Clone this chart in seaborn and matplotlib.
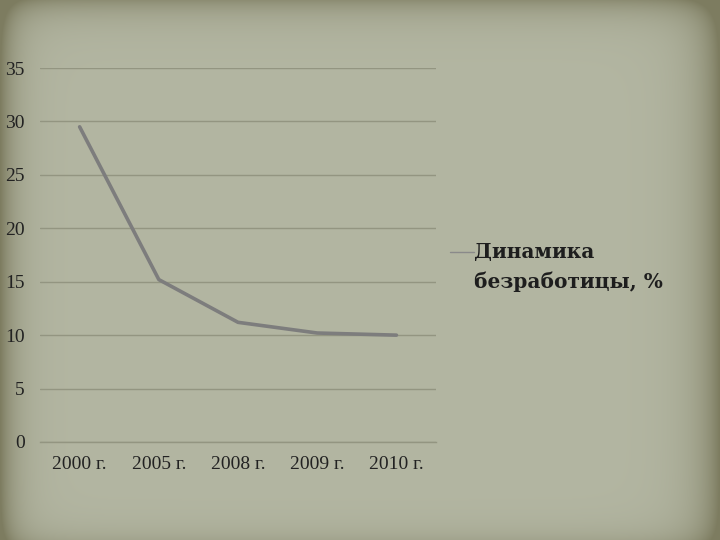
import numpy as np
import pandas as pd
import seaborn as sns
import matplotlib.pyplot as plt

years = ["2000 г.", "2005 г.", "2008 г.", "2009 г.", "2010 г."]
unemployment = [29.5, 15.2, 11.2, 10.2, 10.0]
series_name = "Динамика\nбезработицы, %"

df = pd.DataFrame({"year": years, "value": unemployment})

sns.set_style("white")
plt.rcParams["font.family"] = ["Liberation Serif", "DejaVu Serif"]

fig = plt.figure(figsize=(7.2, 5.4), dpi=100)

# textured-looking background with darker edges
bg = fig.add_axes([0, 0, 1, 1], zorder=-10)
h, w = 540, 720
yy, xx = np.mgrid[0:h, 0:w]
edge = (np.exp(-xx / 16.0) + np.exp(-(w - 1 - xx) / 22.0)
        + 0.7 * np.exp(-yy / 16.0) + 0.3 * np.exp(-(h - 1 - yy) / 14.0))
edge = np.clip(edge, 0, 1)
center = np.array([179, 182, 162]) / 255
dark = np.array([125, 124, 96]) / 255
img = center[None, None, :] * (1 - edge[..., None]) + dark[None, None, :] * edge[..., None]
bg.imshow(img, aspect="auto", extent=[0, 1, 0, 1])
bg.axis("off")

ax = fig.add_axes([0.0556, 0.1815, 0.55, 0.6925])
ax.patch.set_alpha(0)
sns.lineplot(data=df, x="year", y="value", ax=ax, color="#7d7d7d",
             linewidth=2.6, label=series_name, sort=False)

ax.set_ylim(0, 35)
ax.set_yticks(range(0, 36, 5))
ax.set_xlim(-0.5, 4.5)
ax.set_xlabel("")
ax.set_ylabel("")

ax.yaxis.grid(True, color="#939581", linewidth=1.0)
ax.xaxis.grid(False)
for s in ["top", "right", "left"]:
    ax.spines[s].set_visible(False)
ax.spines["bottom"].set_color("#939581")
ax.spines["bottom"].set_linewidth(1.0)

ax.tick_params(axis="y", length=0, pad=11, labelsize=14, labelcolor="#222222")
ax.tick_params(axis="x", which="major", length=0, pad=10, labelsize=14, labelcolor="#222222")
ax.set_xticks(np.arange(-0.5, 5.0, 1.0), minor=True)
ax.tick_params(axis="x", which="minor", length=5, color="#939581", direction="out")

fs = 14.5
ls = 1.6
leg = ax.legend(loc="upper left", bbox_to_anchor=(0.625, 0.552),
                bbox_transform=fig.transFigure, frameon=False,
                borderpad=0, borderaxespad=0,
                handlelength=1.2, handletextpad=0.0, labelspacing=0,
                prop={"family": "DejaVu Serif", "size": fs, "weight": "bold"})
for t in leg.get_texts():
    t.set_color("#1e1e1e")
    t.set_linespacing(ls)
# put the legend line next to the first text line, thin like the original
hl = leg.get_lines()[0]
hl.set_linewidth(1.0)
hl.set_color("#8a8a8a")
hl.set_ydata(np.asarray(hl.get_ydata()) + ls * fs / 2)

fig.savefig("out.png", dpi=100)
